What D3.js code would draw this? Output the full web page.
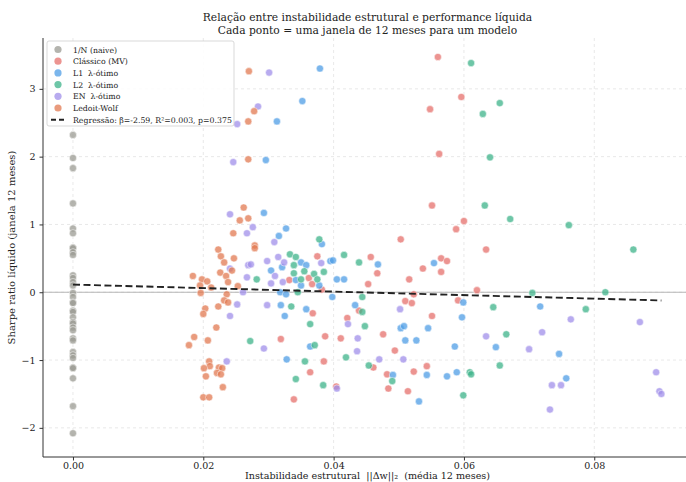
<!DOCTYPE html>
<html>
<head>
<meta charset="utf-8">
<script src="https://cdn.jsdelivr.net/npm/d3@7"></script>
<style>
  body { margin: 0; background: #fff; }
  svg { display: block; overflow: hidden; }
  text { font-family: "DejaVu Serif", serif; fill: #222; white-space: pre; }
</style>
</head>
<body>
<svg></svg>
<script>
// Data: [instability, sharpe] per 12-month window
const naive = [
  [0, 2.32], [0, 1.98], [0, 1.83], [0, 1.31], [0, 0.94], [0, 0.87], [0, 0.66],
  [0, 0.65], [0, 0.59], [0, 0.55], [0, 0.25], [0, 0.21], [0, 0.15], [0, 0.10],
  [0, -0.01], [0, -0.07], [0, -0.15], [0, -0.16], [0, -0.27], [0, -0.29], [0, -0.37],
  [0, -0.44], [0, -0.46], [0, -0.52], [0, -0.56], [0, -0.68], [0, -0.71], [0, -0.88],
  [0, -0.93], [0, -0.97], [0, -1.11], [0, -1.12], [0, -1.27], [0, -1.68], [0, -2.08]
];
const classico = [
  [0.0332, 0.18], [0.0368, -0.31], [0.0375, 0.53], [0.0362, 0.21], [0.0367, 0.12],
  [0.0382, 0.04], [0.0421, -0.38], [0.0319, -0.69], [0.0387, -0.65], [0.0411, -0.68],
  [0.0385, -1.02], [0.0364, -1.18], [0.0404, -1.39], [0.0339, -1.58], [0.0560, 3.47],
  [0.0596, 2.88], [0.0548, 2.70], [0.0562, 2.04], [0.0551, 1.28], [0.0600, 1.05],
  [0.0588, 0.93], [0.0503, 0.78], [0.0634, 0.63], [0.0457, 0.52], [0.0467, 0.28],
  [0.0453, 0.12], [0.0565, 0.50], [0.0574, 0.46], [0.0537, 0.35], [0.0565, 0.30],
  [0.0516, 0.19], [0.0523, -0.03], [0.0510, -0.13], [0.0520, -0.16], [0.0439, -0.27],
  [0.0620, 0.03], [0.0591, -0.12], [0.0551, -0.35], [0.0476, -0.62], [0.0494, -0.86],
  [0.0461, -1.11], [0.0543, -1.09], [0.0482, -1.21], [0.0523, -1.17], [0.0484, -1.42],
  [0.0514, -1.46]
];
const l1 = [
  [0.0379, 3.30], [0.0352, 2.82], [0.0313, 2.52], [0.0296, 1.95], [0.0293, 1.17],
  [0.0327, 0.94], [0.0316, 0.83], [0.0382, 0.71], [0.0304, 0.32], [0.0321, 0.37],
  [0.0350, 0.44], [0.0358, 0.40], [0.0342, 0.18], [0.0350, 0.10], [0.0318, 0.00],
  [0.0327, -0.03], [0.0319, -0.19], [0.0325, -0.35], [0.0358, -0.25], [0.0395, 0.46],
  [0.0399, 0.47], [0.0405, 0.19], [0.0416, 0.19], [0.0378, 0.10], [0.0398, -0.07],
  [0.0364, -0.80], [0.0328, -0.99], [0.0468, 0.41], [0.0554, 0.43], [0.0433, -0.19],
  [0.0599, -0.15], [0.0597, -0.37], [0.0503, -0.53], [0.0508, -0.50], [0.0545, -0.53],
  [0.0510, -0.71], [0.0527, -0.71], [0.0586, -0.80], [0.0649, -0.81], [0.0491, -1.22],
  [0.0543, -1.22], [0.0574, -1.24], [0.0589, -1.18], [0.0531, -1.61], [0.0717, -0.21],
  [0.0746, -0.91], [0.0757, -1.27]
];
const l2 = [
  [0.0378, 0.78], [0.0282, 0.19], [0.0333, 0.56], [0.0342, 0.52], [0.0339, 0.40],
  [0.0355, 0.31], [0.0339, 0.28], [0.0350, 0.19], [0.0345, 0.00], [0.0335, -0.21],
  [0.0364, -0.47], [0.0370, 0.27], [0.0375, 0.19], [0.0385, 0.30], [0.0416, 0.55],
  [0.0272, -0.72], [0.0371, -0.78], [0.0419, -0.96], [0.0356, -1.02], [0.0342, -1.28],
  [0.0384, -1.37], [0.0611, 3.38], [0.0655, 2.79], [0.0629, 2.63], [0.0640, 1.99],
  [0.0632, 1.28], [0.0671, 1.08], [0.0439, 0.44], [0.0444, -0.07], [0.0444, -0.29],
  [0.0645, -0.22], [0.0448, -0.50], [0.0665, -0.62], [0.0454, -1.08], [0.0655, -1.08],
  [0.0490, -1.31], [0.0609, -1.18], [0.0611, -1.21], [0.0599, -1.52], [0.0761, 0.99],
  [0.0860, 0.63], [0.0705, -0.01], [0.0817, 0.00], [0.0787, -0.25]
];
const en = [
  [0.0301, 3.24], [0.0284, 2.74], [0.0252, 2.48], [0.0246, 1.92], [0.0241, 1.15],
  [0.0276, 0.96], [0.0267, 0.87], [0.0309, 0.74], [0.0241, 0.35], [0.0252, -0.18],
  [0.0241, -0.35], [0.0236, -1.02], [0.0269, 0.40], [0.0273, 0.41], [0.0267, 0.22],
  [0.0261, 0.00], [0.0298, -0.19], [0.0298, 0.46], [0.0310, 0.24], [0.0304, 0.13],
  [0.0315, 0.52], [0.0324, 0.44], [0.0322, 0.15], [0.0381, 0.43], [0.0422, -0.47],
  [0.0293, -0.83], [0.0405, -1.42], [0.0502, -0.25], [0.0437, -0.68], [0.0436, -0.87],
  [0.0634, -0.65], [0.0470, -0.99], [0.0507, -0.99], [0.0764, -0.40], [0.0870, -0.44],
  [0.0720, -0.59], [0.0700, -0.84], [0.0895, -1.18], [0.0735, -1.37], [0.0749, -1.37],
  [0.0900, -1.46], [0.0903, -1.50], [0.0732, -1.73]
];
const ledoit = [
  [0.0270, 3.26], [0.0278, 2.67], [0.0269, 2.52], [0.0269, 1.96], [0.0262, 1.25],
  [0.0256, 1.06], [0.0269, 1.09], [0.0246, 0.87], [0.0279, 0.69], [0.0279, 0.65],
  [0.0223, 0.63], [0.0227, 0.53], [0.0232, 0.44], [0.0247, 0.50], [0.0244, 0.32],
  [0.0226, 0.29], [0.0235, 0.24], [0.0184, 0.24], [0.0198, 0.19], [0.0206, 0.16],
  [0.0238, 0.15], [0.0195, 0.10], [0.0212, 0.07], [0.0253, 0.09], [0.0196, -0.01],
  [0.0236, -0.03], [0.0232, -0.12], [0.0238, -0.15], [0.0223, -0.21], [0.0203, -0.24],
  [0.0200, -0.32], [0.0220, -0.52], [0.0186, -0.66], [0.0178, -0.78], [0.0207, -0.71],
  [0.0209, -1.02], [0.0210, -1.09], [0.0201, -1.12], [0.0224, -1.11], [0.0229, -1.12],
  [0.0221, -1.19], [0.0227, -1.21], [0.0204, -1.24], [0.0230, -1.40], [0.0200, -1.55],
  [0.0209, -1.55]
];

const seriesNames = ["1/N (naive)", "Clássico (MV)", "L1  λ-ótimo", "L2  λ-ótimo", "EN  λ-ótimo", "Ledoit-Wolf"];
const seriesData = [naive, classico, l1, l2, en, ledoit];
const seriesColors = ["#9b9b93", "#e5706c", "#4f9de6", "#3db389", "#a08fea", "#e27a52"];

const xTicks = [0, 0.02, 0.04, 0.06, 0.08];
const yTicks = [-2, -1, 0, 1, 2, 3];

// Regression fit
const regSlope = -2.59;
const regIntercept = 0.113;
const regLabel = "Regressão: β=-2.59, R²=0.003, p=0.375";

// Dimensions and margins
const W = 686, H = 482;
const margin = { top: 38, right: -6, bottom: 25, left: 43 };
const width = W - margin.left - margin.right;
const height = H - margin.top - margin.bottom;

const root = d3.select("svg").attr("width", W).attr("height", H);
const svg = root.append("g")
  .attr("transform", `translate(${margin.left}, ${margin.top})`);

const xScale = d3.scaleLinear().domain([-0.0046, 0.0950]).range([0, width]);
const yScale = d3.scaleLinear().domain([-2.43, 3.75]).range([height, 0]);

// Grid
svg.append("g").selectAll("line").data(xTicks).join("line")
  .attr("x1", d => xScale(d)).attr("x2", d => xScale(d))
  .attr("y1", 0).attr("y2", height)
  .attr("stroke", "#e2e2e2").attr("stroke-width", 0.8).attr("stroke-dasharray", "3,3");
svg.append("g").selectAll("line").data(yTicks).join("line")
  .attr("x1", 0).attr("x2", width)
  .attr("y1", d => yScale(d)).attr("y2", d => yScale(d))
  .attr("stroke", "#e2e2e2").attr("stroke-width", 0.8).attr("stroke-dasharray", "3,3");

// Zero line
svg.append("line")
  .attr("x1", 0).attr("x2", width)
  .attr("y1", yScale(0)).attr("y2", yScale(0))
  .attr("stroke", "#b5b5b5").attr("stroke-width", 1);

// Points
seriesData.forEach((pts, i) => {
  svg.append("g").selectAll("circle").data(pts).join("circle")
    .attr("cx", d => xScale(d[0]))
    .attr("cy", d => yScale(d[1]))
    .attr("r", 3.6)
    .attr("fill", seriesColors[i])
    .attr("fill-opacity", 0.75)
    .attr("stroke", "#fff")
    .attr("stroke-width", 0.5);
});

// Regression line
const xMax = d3.max(seriesData.flat(), d => d[0]);
svg.append("line")
  .attr("x1", xScale(0)).attr("y1", yScale(regIntercept))
  .attr("x2", xScale(xMax)).attr("y2", yScale(regIntercept + regSlope * xMax))
  .attr("stroke", "#222").attr("stroke-width", 1.9).attr("stroke-dasharray", "7,3.5");

// Axes
const xAxis = svg.append("g")
  .attr("transform", `translate(0, ${height})`)
  .call(d3.axisBottom(xScale).tickValues(xTicks).tickFormat(d3.format(".2f")).tickSize(3.5).tickPadding(1.5));
const yAxis = svg.append("g")
  .call(d3.axisLeft(yScale).tickValues(yTicks).tickFormat(d3.format("d")).tickSize(3.5).tickPadding(4));
[xAxis, yAxis].forEach(a => {
  a.select(".domain").attr("stroke", "#333").attr("stroke-width", 1);
  a.selectAll(".tick line").attr("stroke", "#333");
  a.selectAll(".tick text").attr("font-family", "DejaVu Serif").attr("font-size", 9.5).attr("fill", "#222");
});
// spines only, no outer ticks
yAxis.select(".domain").attr("d", `M0,0V${height}`);
xAxis.select(".domain").attr("d", `M0,0H${width}`);

// Titles
root.append("text")
  .attr("x", margin.left + width / 2).attr("y", 21)
  .attr("text-anchor", "middle").attr("font-size", 10.7)
  .text("Relação entre instabilidade estrutural e performance líquida");
root.append("text")
  .attr("x", margin.left + width / 2).attr("y", 34)
  .attr("text-anchor", "middle").attr("font-size", 10.7)
  .text("Cada ponto = uma janela de 12 meses para um modelo");

svg.append("text")
  .attr("x", width / 2).attr("y", height + 21.5)
  .attr("text-anchor", "middle").attr("font-size", 9.6)
  .text("Instabilidade estrutural  ||Δw||₂  (média 12 meses)");

svg.append("text")
  .attr("transform", "rotate(-90)")
  .attr("x", -height / 2).attr("y", -margin.left + 15)
  .attr("text-anchor", "middle").attr("font-size", 10)
  .text("Sharpe ratio líquido (janela 12 meses)");

// Legend
const legend = root.append("g").attr("transform", "translate(47, 41)");
legend.append("rect")
  .attr("width", 187).attr("height", 85).attr("rx", 2)
  .attr("fill", "#fff").attr("fill-opacity", 0.85)
  .attr("stroke", "#cfcfcf").attr("stroke-width", 0.8);
seriesNames.forEach((name, i) => {
  const y = 8.5 + i * 11.7;
  legend.append("circle").attr("cx", 11).attr("cy", y).attr("r", 3.6)
    .attr("fill", seriesColors[i]).attr("fill-opacity", 0.75);
  legend.append("text").attr("x", 26).attr("y", y + 3).attr("font-size", 7.8).text(name);
});
const regY = 8.5 + 6 * 11.7;
legend.append("line").attr("x1", 4).attr("x2", 19).attr("y1", regY).attr("y2", regY)
  .attr("stroke", "#222").attr("stroke-width", 1.9).attr("stroke-dasharray", "5,3");
legend.append("text").attr("x", 26).attr("y", regY + 3).attr("font-size", 7.8).text(regLabel);
</script>
</body>
</html>
